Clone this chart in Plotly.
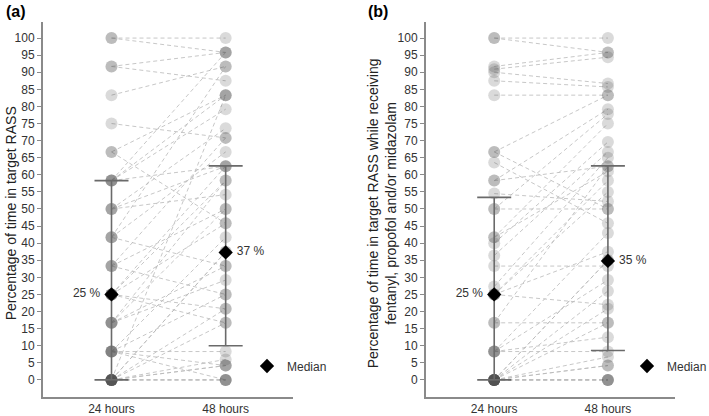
import plotly.graph_objects as go

categories = ["24 hours", "48 hours"]
y_ticks = list(range(0, 101, 5))

# Panel (a): percentage of time in target RASS (paired per patient)
a_24h = [100, 100, 91.7, 91.7, 83.3, 75, 66.7, 66.7,
         58.3, 58.3, 58.3, 58.3, 50, 50, 50, 41.7, 41.7, 41.7,
         33.3, 33.3, 33.3, 25, 25, 25, 25, 25, 16.7, 16.7, 16.7, 16.7,
         8.3, 8.3, 8.3, 8.3, 8.3,
         0, 0, 0, 0, 0, 0, 0, 0, 0, 0, 0]
a_48h = [100, 95.8, 95.8, 87.5, 91.7, 70.8, 83.3, 45.8,
         83.3, 79.2, 62.5, 95.8, 73.6, 62.5, 54.2, 91.7, 66.7, 33.3,
         70.8, 50, 25, 62.5, 58.3, 45.8, 20.8, 16.7, 58.3, 50, 33.3, 29.2,
         41.7, 25, 8.3, 4.2, 0,
         83.3, 37.5, 37.5, 20.8, 16.7, 6, 4.2, 4.2, 0, 0, 0]
a_median = [25, 37.3]
a_q1 = [0, 10]
a_q3 = [58.3, 62.6]

# Panel (b): percentage of time in target RASS while receiving sedatives
b_24h = [100, 100, 91.7, 90.9, 90, 87.5, 83.3,
         66.7, 66.7, 63.6, 58.3, 58.3, 54.5, 50, 50,
         41.7, 41.7, 40, 36.4, 33.3, 27.3,
         25, 25, 25, 25, 16.7, 16.7,
         8.3, 8.3, 8.3, 8.3,
         0, 0, 0, 0, 0, 0, 0, 0, 0, 0, 0, 0]
b_48h = [100, 95.8, 95.8, 94.4, 86.7, 85.7, 83.3,
         83.3, 50, 45.8, 79.2, 62.5, 52.2, 77.8, 50,
         75, 61, 69.6, 66.7, 33.3, 65,
         58.3, 55, 37.5, 22, 62.5, 16.7,
         43, 29.2, 12.5, 8.3,
         0, 35, 35, 26, 20.8, 16.7, 6.7, 4.2, 4.2, 0, 0, 0]
b_median = [25, 34.8]
b_q1 = [0, 8.6]
b_q3 = [53.4, 62.6]

FONT = "Liberation Sans, Arial, sans-serif"
LINE_COLOR = "rgba(185,185,185,0.8)"
DOT_COLOR = "rgba(70,70,70,0.2)"
AXIS_COLOR = "#8a8a8a"
ERR_COLOR = "#6a6a6a"
NB = "\u00a0"

fig = go.Figure()


def add_panel(v24, v48, med, q1, q3, xa, ya, legend_name):
    lx, ly = [], []
    for s, e in zip(v24, v48):
        lx += [1, 2, None]
        ly += [s, e, None]
    fig.add_trace(go.Scatter(
        x=lx, y=ly, mode="lines", xaxis=xa, yaxis=ya, showlegend=False,
        line=dict(color=LINE_COLOR, width=1, dash="4px,3px"), hoverinfo="skip"))
    fig.add_trace(go.Scatter(
        x=[1] * len(v24) + [2] * len(v48), y=list(v24) + list(v48),
        mode="markers", xaxis=xa, yaxis=ya, showlegend=False,
        marker=dict(symbol="circle", size=12, color=DOT_COLOR, line=dict(width=0))))
    fig.add_trace(go.Scatter(
        x=[1, 2], y=med, mode="markers+text", xaxis=xa, yaxis=ya,
        name="Median", legend=legend_name, showlegend=True,
        text=[f"{round(med[0])} %{NB}", f"{NB}{round(med[1])} %"],
        textposition=["middle left", "middle right"],
        textfont=dict(family=FONT, size=12, color="#333333"),
        marker=dict(symbol="diamond", size=11, color="black"),
        error_y=dict(type="data", symmetric=False,
                     array=[h - m for h, m in zip(q3, med)],
                     arrayminus=[m - l for m, l in zip(med, q1)],
                     color=ERR_COLOR, thickness=1.6, width=17)))


add_panel(a_24h, a_48h, a_median, a_q1, a_q3, "x", "y", "legend")
add_panel(b_24h, b_48h, b_median, b_q1, b_q3, "x2", "y2", "legend2")

xax = dict(range=[0.4, 2.59], tickvals=[1, 2], ticktext=categories, automargin=False,
           showgrid=False, zeroline=False, showline=True, linecolor=AXIS_COLOR,
           linewidth=2, ticks="", tickfont=dict(family=FONT, size=12, color="#333333"))
yax = dict(range=[-5, 104.7], tickvals=y_ticks, showgrid=False, zeroline=False,
           automargin=False,
           showline=True, linecolor=AXIS_COLOR, linewidth=2, ticks="outside",
           ticklen=4, tickcolor=AXIS_COLOR, tickwidth=1,
           tickfont=dict(family=FONT, size=12, color="#333333"))

leg = dict(font=dict(family=FONT, size=12, color="#333333"), bgcolor="rgba(0,0,0,0)",
           xref="container", yref="container",
           yanchor="middle", xanchor="left", itemwidth=30)

fig.update_layout(
    width=709, height=416,
    margin=dict(l=43, r=34, t=22, b=19, autoexpand=False),
    paper_bgcolor="white", plot_bgcolor="white",
    xaxis=dict(domain=[0, 0.3956], anchor="y", **xax),
    yaxis=dict(domain=[0, 1], anchor="x", **yax),
    xaxis2=dict(domain=[0.606, 1], anchor="y2", **xax),
    yaxis2=dict(domain=[0, 1], anchor="x2", **yax),
    legend=dict(x=247 / 709, y=(416 - 366) / 416, **leg),
    legend2=dict(x=627 / 709, y=(416 - 366) / 416, **leg),
    annotations=[
        dict(text="<b>(a)</b>", xref="paper", yref="paper", x=-0.062, y=1.027,
             xanchor="left", yanchor="middle", showarrow=False,
             font=dict(family=FONT, size=16, color="black")),
        dict(text="<b>(b)</b>", xref="paper", yref="paper", x=0.511, y=1.027,
             xanchor="left", yanchor="middle", showarrow=False,
             font=dict(family=FONT, size=16, color="black")),
        dict(text="Percentage of time in target RASS", xref="paper", yref="paper",
             x=(11 - 43) / 632, y=0.49, xanchor="center", yanchor="middle",
             textangle=-90, showarrow=False,
             font=dict(family=FONT, size=14, color="#222222")),
        dict(text="Percentage of time in target RASS while receiving<br>fentanyl, propofol and/or midazolam",
             xref="paper", yref="paper",
             x=(382 - 43) / 632, y=0.49, xanchor="center", yanchor="middle",
             textangle=-90, showarrow=False,
             font=dict(family=FONT, size=14, color="#222222")),
    ],
)

fig.write_html(
    "out.html",
    config={"displayModeBar": False},
    post_script="document.body.style.margin='0';document.body.style.overflow='hidden';",
)
